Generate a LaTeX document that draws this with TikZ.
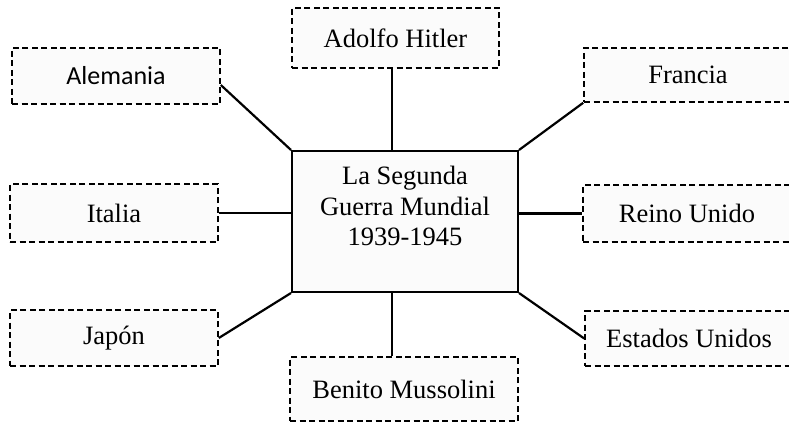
\documentclass[tikz,border=0pt]{standalone}
\usepackage{fontspec}
\setmainfont{Liberation Serif}
\newfontfamily\calib{Carlito}
\definecolor{boxfill}{RGB}{251,251,251}
\begin{document}
\begin{tikzpicture}[x=1pt,y=-1pt,
  dbox/.style={draw=black,line width=1.6pt,dash pattern=on 6pt off 3.5pt,fill=boxfill,
    rectangle,inner sep=0pt,font=\fontsize{26.5}{30}\selectfont,anchor=center},
  mainbox/.style={draw=black,line width=2pt,fill=boxfill,rectangle,inner sep=0pt,
    align=center,font=\fontsize{26.5}{30.5}\selectfont},
  link/.style={draw=black,line width=2.2pt}]
\useasboundingbox (0,0) rectangle (789,425);
\begin{scope}
\clip (0,0) rectangle (789,425);
\node[mainbox,minimum width=226pt,minimum height=141pt] (c) at (405,221.5) {La Segunda\\Guerra Mundial\\1939-1945\\[0pt]\rule{0pt}{22pt}};
\node[dbox,minimum width=208pt,minimum height=56pt,font=\calib\fontsize{26}{30}\selectfont] (ale) at (116,76) {Alemania};
\node[dbox,minimum width=207pt,minimum height=60pt] (ad) at (395.5,38) {Adolfo Hitler};
\node[dbox,minimum width=208pt,minimum height=54pt] (fr) at (688,75) {Francia};
\node[dbox,minimum width=208pt,minimum height=58pt] (it) at (114,213) {Italia};
\node[dbox,minimum width=208pt,minimum height=57pt] (ru) at (687,213.5) {Reino Unido};
\node[dbox,minimum width=208pt,minimum height=56pt] (ja) at (114,338) {Japón};
\node[dbox,minimum width=228pt,minimum height=64pt] (be) at (404,389) {Benito Mussolini};
\node[dbox,minimum width=208pt,minimum height=55pt] (eu) at (689,338.5) {Estados Unidos};
\draw[link] ([yshift=-9pt]ale.east) -- (c.north west);
\draw[link] ([xshift=-3.5pt]ad.south) -- ([xshift=-13pt]c.north);
\draw[link] (fr.south west) -- (c.north east);
\draw[link] (it.east) -- (c.west |- it.east);
\draw[link] (c.east |- ru.west) -- (ru.west);
\draw[link] (ja.east) -- (c.south west);
\draw[link] ([xshift=-13pt]c.south) -- ([xshift=-12pt]be.north);
\draw[link] (c.south east) -- (eu.west);
\end{scope}
\end{tikzpicture}
\end{document}
